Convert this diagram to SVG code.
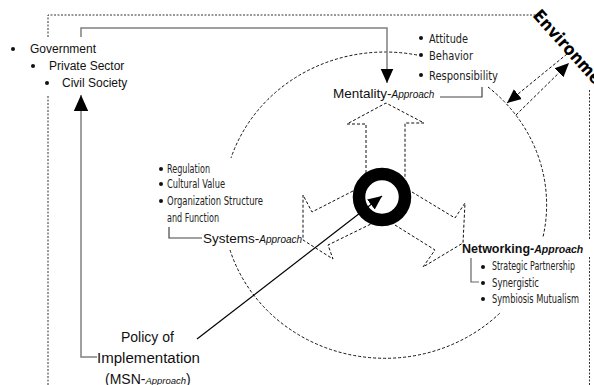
<svg xmlns="http://www.w3.org/2000/svg" width="594" height="385" viewBox="0 0 594 385">
<style>
.reg{font-family:"Liberation Sans","DejaVu Sans",sans-serif;fill:#111}
.cond{font-family:"Liberation Sans Narrow","DejaVu Sans Condensed","Liberation Sans",sans-serif;fill:#222;font-size:12.5px}
.dash{fill:none;stroke:#111;stroke-width:1;stroke-dasharray:3,2}
.dot{fill:none;stroke:#333;stroke-width:1;stroke-dasharray:2,1.5}
.gray{fill:none;stroke:#808080;stroke-width:1.5}
.bul{fill:#111}
</style>
<defs>
<marker id="ah" viewBox="0 0 10 10" refX="10" refY="5" markerWidth="14" markerHeight="14" markerUnits="userSpaceOnUse" orient="auto"><path d="M0,0.5 L10,5 L0,9.5 z" fill="#000"/></marker>
<marker id="ahBig" viewBox="0 0 10 10" refX="10" refY="5" markerWidth="16" markerHeight="16" markerUnits="userSpaceOnUse" orient="auto"><path d="M0,0.5 L10,5 L0,9.5 z" fill="#000"/></marker>
</defs>

<g id="boundary">
<path class="dot" d="M48,37 V15 H536"/>
<path class="dot" d="M48,96 V385"/>
<path class="dot" d="M589.5,90 V239"/>
<path class="dot" d="M589.5,257 V385"/>
<text x="532" y="16" transform="rotate(48 532 16)" font-family="'DejaVu Sans Condensed','DejaVu Sans',sans-serif" font-weight="bold" font-size="17" fill="#000" textLength="112" lengthAdjust="spacingAndGlyphs">Environment</text>
</g>

<g id="cycle">
<path class="dash" d="M417,55 A162,153 0 0 0 231,158"/>
<path class="dash" d="M230,250 A162,153 0 0 0 500,313"/>
<path class="dash" d="M488,87 A162,153 0 0 1 543,237"/>
</g>

<g id="three-arrows">
<path class="dash" d="M366,173 V124 H347 L386,103 L424,123 H405 V179"/>
<path class="dash" d="M412,192 L455,218 L465,203 L463,243 L423,267 L435,250 L395,225"/>
<path class="dash" d="M353,191 L312,212 L303,195 L303,240 L333,259 L328,245 L373,223"/>
<circle cx="382" cy="197" r="23" fill="none" stroke="#000" stroke-width="12.5"/>
</g>

<g id="stakeholders">
<circle class="bul" cx="13" cy="49" r="2"/>
<text class="reg" x="30" y="53" font-size="12">Government</text>
<circle class="bul" cx="33" cy="66" r="2"/>
<text class="reg" x="49" y="70" font-size="12">Private Sector</text>
<circle class="bul" cx="47" cy="83" r="2"/>
<text class="reg" x="62" y="87" font-size="12">Civil Society</text>
</g>

<g id="mentality">
<circle class="bul" cx="421" cy="38" r="2"/>
<text class="cond" x="429" y="43" textLength="39" lengthAdjust="spacingAndGlyphs">Attitude</text>
<circle class="bul" cx="421" cy="55" r="2"/>
<text class="cond" x="429" y="60" textLength="44" lengthAdjust="spacingAndGlyphs">Behavior</text>
<circle class="bul" cx="421" cy="75" r="2"/>
<text class="cond" x="429" y="80" textLength="69" lengthAdjust="spacingAndGlyphs">Responsibility</text>
<text class="reg" x="333" y="98" font-size="13.5">Mentality-<tspan font-size="10" font-style="italic">Approach</tspan></text>
</g>

<g id="systems">
<circle class="bul" cx="161" cy="169" r="2"/>
<text class="cond" x="167" y="173" textLength="43" lengthAdjust="spacingAndGlyphs">Regulation</text>
<circle class="bul" cx="161" cy="184" r="2"/>
<text class="cond" x="167" y="188" textLength="58" lengthAdjust="spacingAndGlyphs">Cultural Value</text>
<circle class="bul" cx="161" cy="201" r="2"/>
<text class="cond" x="167" y="205" textLength="96" lengthAdjust="spacingAndGlyphs">Organization Structure</text>
<text class="cond" x="167" y="222" textLength="52" lengthAdjust="spacingAndGlyphs">and Function</text>
<text class="reg" x="203" y="243" font-size="13.5">Systems-<tspan font-size="10" font-style="italic">Approach</tspan></text>
</g>

<g id="networking">
<text class="reg" x="462" y="253" font-size="12.5" font-weight="bold">Networking-<tspan font-size="10.5" font-style="italic">Approach</tspan></text>
<circle class="bul" cx="483" cy="267" r="2"/>
<text class="cond" x="492" y="270" textLength="83" lengthAdjust="spacingAndGlyphs">Strategic Partnership</text>
<circle class="bul" cx="483" cy="283" r="2"/>
<text class="cond" x="492" y="287" textLength="47" lengthAdjust="spacingAndGlyphs">Synergistic</text>
<circle class="bul" cx="483" cy="299" r="2"/>
<text class="cond" x="492" y="303" textLength="87" lengthAdjust="spacingAndGlyphs">Symbiosis Mutualism</text>
</g>

<g id="policy">
<text class="reg" x="121" y="342" font-size="14">Policy of</text>
<text class="reg" x="97" y="363" font-size="14" textLength="103" lengthAdjust="spacingAndGlyphs">Implementation</text>
<text class="reg" x="105" y="384" font-size="14">(MSN-<tspan font-size="9.5" font-style="italic">Approach</tspan>)</text>
</g>

<g id="connectors">
<path class="gray" d="M81,37 V28 H387 V83" marker-end="url(#ah)"/>
<path class="gray" d="M97,357 H81 V95" marker-end="url(#ahBig)"/>
<path fill="none" stroke="#444" stroke-width="1.2" d="M440,97 H482 V87"/>
<path fill="none" stroke="#444" stroke-width="1.2" d="M169,227 V238 H202"/>
<path fill="none" stroke="#666" stroke-width="1.2" d="M471,258 V282 H479"/>
<path fill="none" stroke="#000" stroke-width="1.2" d="M197,339 L382,196" marker-end="url(#ah)"/>
<path class="dash" d="M567,54 L507,103" marker-end="url(#ah)"/>
<path class="dash" d="M516,115 L569,63" marker-end="url(#ah)"/>
</g>
</svg>
